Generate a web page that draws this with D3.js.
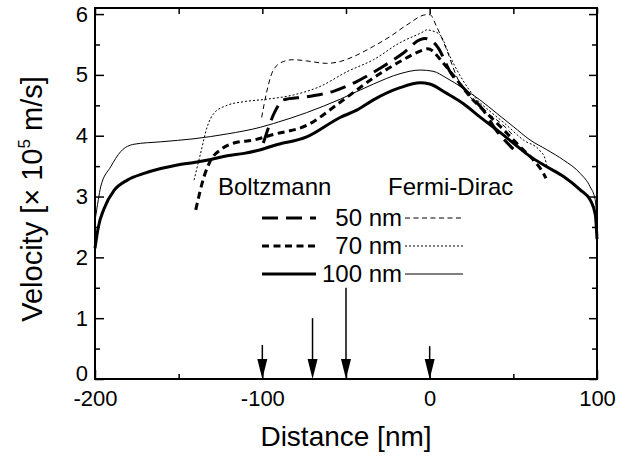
<!DOCTYPE html>
<html>
<head>
<meta charset="utf-8">
<script src="https://cdn.jsdelivr.net/npm/d3@7"></script>
<style>
  body { margin: 0; background: #fff; }
  text { font-family: "Liberation Sans", Arial, sans-serif; fill: #000; }
</style>
</head>
<body>
<svg id="viz" width="634" height="459"></svg>
<script>
// velocity profiles [distance nm, velocity 1e5 m/s]
var boltz50 = [
  [-99.4, 3.88], [-92.4, 4.4], [-87.4, 4.59], [-73.5, 4.64], [-57.6, 4.73],
  [-43.6, 4.89], [-29.6, 5.11], [-15.7, 5.36], [-5.7, 5.58], [-2.8, 5.6],
  [0, 5.58], [5, 5.45], [12, 5.06], [22, 4.73], [32, 4.42], [40, 4.08],
  [45, 3.92], [50, 3.78]
];
var boltz70 = [
  [-139.8, 2.78], [-134.8, 3.33], [-130.8, 3.6], [-124.9, 3.77], [-116.9, 3.88],
  [-105, 3.93], [-93.4, 4.02], [-73.5, 4.17], [-53.5, 4.55], [-33.6, 4.95],
  [-17.7, 5.22], [-3.8, 5.41], [-1, 5.43], [0.2, 5.42], [8.2, 5.19],
  [16.2, 4.92], [24.2, 4.64], [34.1, 4.37], [44.1, 4.1], [54, 3.82],
  [62, 3.6], [68, 3.38], [69.5, 3.3]
];
var boltz100 = [
  [-200, 2.15], [-198, 2.5], [-194.6, 2.8], [-188.6, 3.1], [-180.7, 3.27],
  [-170.7, 3.38], [-160.7, 3.46], [-150.8, 3.52], [-140.8, 3.56], [-130.8, 3.61],
  [-120.9, 3.67], [-110.9, 3.71], [-101, 3.77], [-93, 3.84], [-73.5, 3.98],
  [-53.5, 4.3], [-43.6, 4.42], [-33.6, 4.59], [-17.7, 4.79], [-5.7, 4.87],
  [0, 4.85], [10, 4.7], [20, 4.53], [30, 4.31], [40, 4.1], [50, 3.88],
  [60, 3.66], [70, 3.49], [80, 3.33], [90, 3.11], [96, 2.94], [99, 2.7],
  [100, 2.3]
];
var fermi50 = [
  [-100.4, 4.3], [-97.4, 4.72], [-93.4, 5.08], [-87.4, 5.22], [-81.5, 5.25],
  [-73.5, 5.23], [-61.5, 5.19], [-53.5, 5.22], [-45.6, 5.3], [-33.6, 5.47],
  [-23.7, 5.63], [-13.7, 5.82], [-1.8, 5.99], [0.2, 5.99], [4.2, 5.79],
  [10.2, 5.41], [16.2, 4.97], [24.2, 4.64], [32.1, 4.42], [40.1, 4.26],
  [46, 4.12], [50, 4.0]
];
var fermi70 = [
  [-140.8, 3.27], [-137, 3.7], [-132.9, 4.15], [-128.9, 4.37], [-121, 4.5],
  [-111, 4.56], [-97.4, 4.6], [-81.5, 4.67], [-65.5, 4.81], [-49.6, 5.05],
  [-33.6, 5.25], [-17.7, 5.53], [-3.8, 5.71], [-1.8, 5.74], [2, 5.72],
  [6.2, 5.66], [12.2, 5.3], [20.1, 4.9], [28.1, 4.6], [36.1, 4.4],
  [44.1, 4.22], [56, 3.93], [66, 3.75], [69, 3.62], [70, 3.5]
];
var fermi100 = [
  [-200, 2.6], [-198, 2.95], [-196.6, 3.16], [-190.6, 3.49], [-184.6, 3.74],
  [-176.7, 3.86], [-160.7, 3.9], [-140.8, 3.95], [-120.9, 4.03], [-101, 4.14],
  [-93.4, 4.2], [-73.5, 4.38], [-53.5, 4.6], [-33.6, 4.85], [-17.7, 5.02],
  [-5.7, 5.08], [2, 5.06], [10, 4.95], [20, 4.78], [30, 4.59], [40, 4.37],
  [50, 4.15], [60, 3.93], [70, 3.77], [80, 3.6], [90, 3.38], [95.9, 3.16],
  [98.9, 2.95], [100, 2.6]
];

// gate edge markers: position and arrow tail height
var arrowX = [-100, -70, -50, 0];
var arrowTop = [0.56, 1.0, 1.5, 0.54];

var xMajor = [-200, -100, 0, 100];
var xMinor = [-150, -50, 50];
var yMajor = [0, 1, 2, 3, 4, 5, 6];
var yMinor = [0.5, 1.5, 2.5, 3.5, 4.5, 5.5];

var legendRows = ["50 nm", "70 nm", "100 nm"];

var series = [
  { data: boltz50, width: 3, dash: "16,8" },
  { data: boltz70, width: 3, dash: "7,4.5" },
  { data: boltz100, width: 3, dash: null },
  { data: fermi50, width: 1, dash: "5,3.5" },
  { data: fermi70, width: 1, dash: "2,2" },
  { data: fermi100, width: 1, dash: null }
];

var svg = d3.select("#viz");
var x = d3.scaleLinear().domain([-200, 100]).range([95, 597]);
var y = d3.scaleLinear().domain([0, 6.1]).range([379, 8]);
var plain = function (d) { return String(d); };

function tidy(g) {
  g.select(".domain").remove();
  g.attr("font-size", 22).attr("font-family", null);
  g.selectAll(".tick line").attr("stroke-width", 1.5);
}

// axes with inward ticks on all four sides
svg.append("g")
  .attr("transform", "translate(0," + y(0) + ")")
  .call(d3.axisBottom(x).tickValues(xMajor).tickSize(-9).tickPadding(11).tickFormat(plain))
  .call(tidy);
svg.append("g")
  .attr("transform", "translate(0," + y(0) + ")")
  .call(d3.axisBottom(x).tickValues(xMinor).tickSize(-5).tickFormat(""))
  .call(tidy);
svg.append("g")
  .attr("transform", "translate(0," + y(6.1) + ")")
  .call(d3.axisTop(x).tickValues(xMajor.concat(xMinor)).tickSize(-6).tickFormat(""))
  .call(tidy);

svg.append("g")
  .attr("transform", "translate(" + x(-200) + ",0)")
  .call(d3.axisLeft(y).tickValues(yMajor).tickSize(-9).tickPadding(7).tickFormat(plain))
  .call(tidy)
  .call(function (g) {
    // the zero label sits a little higher, clear of "-200"
    g.selectAll(".tick text").filter(function (d) { return d === 0; }).attr("y", -6);
  });
svg.append("g")
  .attr("transform", "translate(" + x(-200) + ",0)")
  .call(d3.axisLeft(y).tickValues(yMinor).tickSize(-5).tickFormat(""))
  .call(tidy);
svg.append("g")
  .attr("transform", "translate(" + x(100) + ",0)")
  .call(d3.axisRight(y).tickValues(yMajor).tickSize(-8).tickFormat(""))
  .call(tidy);
svg.append("g")
  .attr("transform", "translate(" + x(100) + ",0)")
  .call(d3.axisRight(y).tickValues(yMinor).tickSize(-5).tickFormat(""))
  .call(tidy);

// frame
svg.append("rect")
  .attr("x", x(-200))
  .attr("y", y(6.1))
  .attr("width", x(100) - x(-200))
  .attr("height", y(0) - y(6.1))
  .attr("fill", "none")
  .attr("stroke", "#000")
  .attr("stroke-width", 2);

// curves
var line = d3.line()
  .x(function (d) { return x(d[0]); })
  .y(function (d) { return y(d[1]); })
  .curve(d3.curveMonotoneX);

svg.selectAll(".curve")
  .data(series)
  .enter()
  .append("path")
  .attr("class", "curve")
  .attr("fill", "none")
  .attr("stroke", "#000")
  .attr("stroke-width", function (d) { return d.width; })
  .attr("stroke-dasharray", function (d) { return d.dash; })
  .attr("d", function (d) { return line(d.data); });

// arrows down to the axis
var arrows = svg.selectAll(".arrow")
  .data(arrowX)
  .enter()
  .append("g")
  .attr("class", "arrow");
arrows.append("line")
  .attr("x1", function (d) { return x(d); })
  .attr("x2", function (d) { return x(d); })
  .attr("y1", function (d, i) { return y(arrowTop[i]); })
  .attr("y2", y(0) - 10)
  .attr("stroke", "#000")
  .attr("stroke-width", 1.5);
arrows.append("path")
  .attr("fill", "#000")
  .attr("d", function (d) {
    var px = x(d), py = y(0);
    return "M" + (px - 5) + "," + (py - 20) + "L" + (px + 5) + "," + (py - 20) + "L" + px + "," + py + "Z";
  });

// legend
svg.append("text").attr("x", 218).attr("y", 195).attr("font-size", 24).text("Boltzmann");
svg.append("text").attr("x", 388).attr("y", 195).attr("font-size", 24).text("Fermi-Dirac");

var rowY = [218, 246, 274];
legendRows.forEach(function (label, i) {
  svg.append("text")
    .attr("x", 402)
    .attr("y", rowY[i] + 8)
    .attr("font-size", 24)
    .attr("text-anchor", "end")
    .text(label);
  svg.append("line")
    .attr("x1", 262).attr("x2", 316)
    .attr("y1", rowY[i]).attr("y2", rowY[i])
    .attr("stroke", "#000")
    .attr("stroke-width", series[i].width)
    .attr("stroke-dasharray", series[i].dash);
  svg.append("line")
    .attr("x1", 405).attr("x2", 463)
    .attr("y1", rowY[i]).attr("y2", rowY[i])
    .attr("stroke", "#000")
    .attr("stroke-width", series[i + 3].width)
    .attr("stroke-dasharray", series[i + 3].dash);
});

// axis titles
svg.append("text")
  .attr("x", 346)
  .attr("y", 446)
  .attr("font-size", 28)
  .attr("text-anchor", "middle")
  .text("Distance [nm]");

var yTitle = svg.append("text")
  .attr("transform", "translate(42,199) rotate(-90)")
  .attr("font-size", 29)
  .attr("text-anchor", "middle");
yTitle.append("tspan").text("Velocity [× 10");
yTitle.append("tspan").attr("font-size", 17).attr("dy", -12).text("5");
yTitle.append("tspan").attr("dy", 12).text(" m/s]");
</script>
</body>
</html>
